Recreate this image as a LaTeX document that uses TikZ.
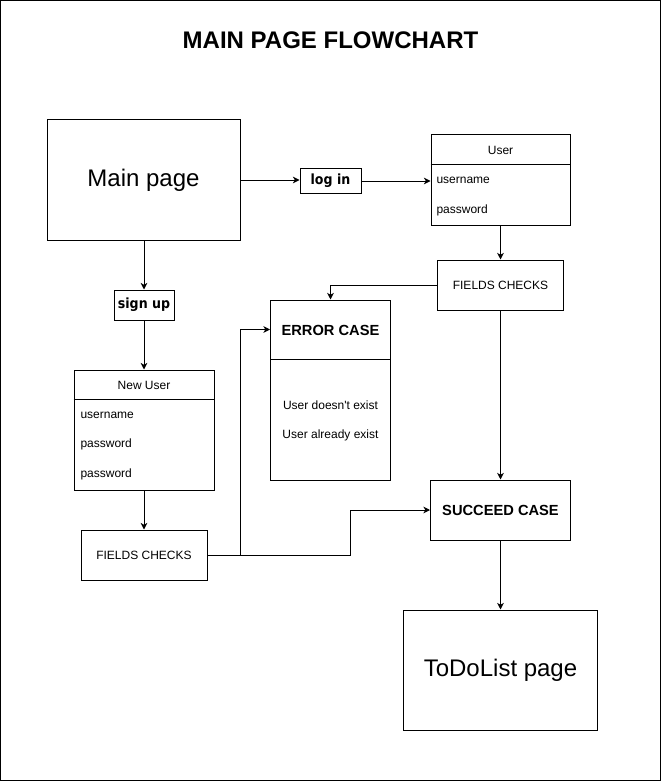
\documentclass[tikz,border=0pt]{standalone}
\usepackage{fontspec}
\setmainfont{Liberation Sans}
\newfontfamily\lblfont[FakeStretch=0.9]{DejaVu Sans}
\usetikzlibrary{arrows.meta,calc}

\begin{document}
\begin{tikzpicture}[
  x=0.75pt, y=-0.75pt,
  line width=0.75pt,
  box/.style 2 args={draw, rectangle, inner sep=0pt,
    minimum width=#1*0.75pt, minimum height=#2*0.75pt},
  arr/.style={-{Stealth[length=5pt,width=5pt,inset=1.5pt]}},
  small/.style={font=\fontsize{9}{11}\selectfont},
  row/.style={small, anchor=west, inner sep=0pt},
  big/.style={font=\fontsize{18}{22}\selectfont},
  head/.style={font=\bfseries\fontsize{11}{13}\selectfont},
  tag/.style={font=\lblfont\bfseries\fontsize{10.5}{12}\selectfont},
]
\useasboundingbox (0,0) rectangle (661,781);
\draw (0.5,0.5) rectangle (660.5,780.5);

% title
\node[font=\bfseries\fontsize{18}{22}\selectfont] (title) at (330.5,40) {MAIN PAGE FLOWCHART};

% pages
\node[box={193}{120}, big] (main) at (143.5,180) {\raisebox{-1.5pt}{Main page}};
\node[box={194}{120}, big] (todo) at (500.5,670) {\raisebox{-1.5pt}{ToDoList page}};

% actions
\node[box={61}{24}, tag] (login) at (330.5,181) {log in};
\node[box={60}{30}, tag] (signup) at (144,305) {sign up};

% User class box
\node[box={139}{90}] (user) at (500.5,180) {};
\coordinate (userdiv) at ($(user.north west)+(0,30)$);
\draw (userdiv) -- (userdiv -| user.east);
\node[small] (usertitle) at (500.5,150) {User};
\node[row] (uname) at (436,180) {username};
\node[row] (upass) at (436,210) {password};

% New User class box
\node[box={140}{120}] (newuser) at (144,430) {};
\coordinate (newdiv) at ($(newuser.north west)+(0,30)$);
\draw (newdiv) -- (newdiv -| newuser.east);
\node[small] (newtitle) at (144,385) {New User};
\node[row] (nname) at (80,415) {username};
\node[row] (npass) at (80,444) {password};
\node[row] (npass2) at (80,474) {password};

% field checks
\node[box={126}{50}, small] (fcone) at (500.5,285) {FIELDS CHECKS};
\node[box={126}{50}, small] (fctwo) at (144,555) {FIELDS CHECKS};

% error case
\node[box={120}{180}] (error) at (330.5,390) {};
\coordinate (errhead) at ($(error.north west)+(0,30)$);
\draw ($(error.north west)+(0,60)$) -- ($(error.north east)+(0,60)$);
\node[head] (errtitle) at (330.5,330) {ERROR CASE};
\node[small] (errone) at (330.5,405) {User doesn\textquotesingle t exist};
\node[small] (errtwo) at (330.5,435) {User already exist};

% succeed case
\node[box={140}{60}, head] (succeed) at (500.5,510) {SUCCEED CASE};

% connectors
\draw[arr] (main.east) -- (main.east -| login.west);
\draw[arr] (login.east) -- (login.east -| user.west);
\draw[arr] (main.south -| signup) -- (signup.north);
\draw[arr] (signup.south) -- (newuser.north);
\draw[arr] (newuser.south) -- (fctwo.north);
\draw[arr] (user.south) -- (fcone.north);
\draw[arr] (fcone.west) -| (error.north);
\draw[arr] (fcone.south) -- (succeed.north);
\draw[arr] (succeed.south) -- (todo.north);

\coordinate (split) at (240.5,555);
\coordinate (bend) at (350.5,555);
\draw[arr] (fctwo.east) -- (split) |- (errhead);
\draw[arr] (split) -- (bend) |- (succeed.west);
\end{tikzpicture}
\end{document}
